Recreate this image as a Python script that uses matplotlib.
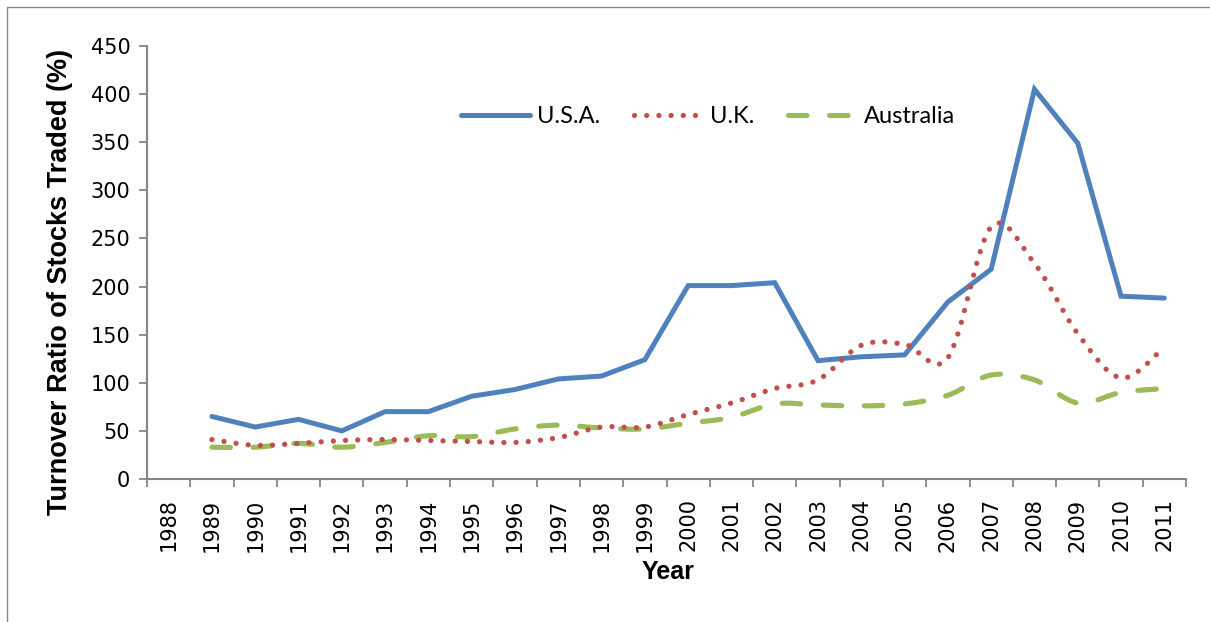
import numpy as np
import matplotlib
matplotlib.use("Agg")
import matplotlib.pyplot as plt
from matplotlib.path import Path
from matplotlib.patches import PathPatch, Rectangle
from matplotlib.lines import Line2D

years = [str(y) for y in range(1988, 2012)]
data_years = list(range(1989, 2012))

usa = [65, 54, 62, 50, 70, 70, 86, 93, 104, 107, 124,
       201, 201, 204, 123, 127, 129, 184, 218, 405, 349, 190, 188]
uk = [41, 35, 37, 40, 41, 40, 39, 38, 43, 54, 54,
      67, 79, 94, 103, 139, 140, 126, 262, 224, 151, 105, 137]
australia = [33, 33, 37, 33, 38, 45, 44, 52, 56, 53, 52,
             58, 64, 78, 77, 76, 78, 87, 108, 103, 79, 90, 94]

blue = "#4F81BD"
red = "#C0504D"
green = "#9BBB59"
grey = "#868686"


def smooth_path(x, y):
    # Catmull-Rom spline written as cubic bezier segments
    x = np.asarray(x, float)
    y = np.asarray(y, float)
    pts = np.column_stack([x, y])
    verts = [pts[0]]
    codes = [Path.MOVETO]
    n = len(pts)
    for i in range(n - 1):
        p0 = pts[i - 1] if i > 0 else pts[i]
        p1 = pts[i]
        p2 = pts[i + 1]
        p3 = pts[i + 2] if i + 2 < n else pts[i + 1]
        c1 = p1 + (p2 - p0) / 6.0
        c2 = p2 - (p3 - p1) / 6.0
        verts += [c1, c2, p2]
        codes += [Path.CURVE4] * 3
    return Path(verts, codes)


fig = plt.figure(figsize=(12.1, 6.22), dpi=100)
ax = fig.add_axes([147 / 1210, 1 - 479 / 622, 1039 / 1210, 433 / 622])

xpos = [years.index(str(y)) for y in data_years]

ax.plot(xpos, usa, color=blue, lw=3.6, solid_capstyle="round",
        solid_joinstyle="miter", zorder=3)

uk_patch = PathPatch(smooth_path(xpos, uk), fill=False, edgecolor=red,
                     lw=3.8, linestyle=(0, (0.01, 2.3)), capstyle="round",
                     zorder=4)
ax.add_patch(uk_patch)

au_patch = PathPatch(smooth_path(xpos, australia), fill=False,
                     edgecolor=green, lw=3.7, linestyle=(0, (3.6, 4.4)),
                     capstyle="round", zorder=2)
ax.add_patch(au_patch)

ax.set_xlim(-0.5, len(years) - 0.5)
ax.set_ylim(0, 450)
ax.set_yticks(range(0, 451, 50))
ax.set_xticks(np.arange(-0.5, len(years), 1.0))
ax.set_xticklabels([])
ax.set_xticks(range(len(years)), minor=True)
ax.set_xticklabels(years, minor=True, rotation=90, fontsize=15,
                   fontfamily="DejaVu Sans")
ax.tick_params(axis="x", which="major", length=6, width=1.3, color=grey)
ax.tick_params(axis="x", which="minor", length=0, pad=14)
ax.tick_params(axis="y", length=6, width=1.3, color=grey, pad=6,
               labelsize=15)

for s in ["top", "right"]:
    ax.spines[s].set_visible(False)
for s in ["left", "bottom"]:
    ax.spines[s].set_color(grey)
    ax.spines[s].set_linewidth(1.5)

handles = [
    Line2D([], [], color=blue, lw=3.6, solid_capstyle="round"),
    Line2D([], [], color=red, lw=3.8, linestyle=(0, (0.01, 2.3)),
           dash_capstyle="round"),
    Line2D([], [], color=green, lw=3.7, linestyle=(0, (3.6, 4.4)),
           dash_capstyle="round"),
]
ax.legend(handles, ["U.S.A.", "U.K.", "Australia"], ncol=3, frameon=False,
          loc="center", bbox_to_anchor=(0.54, 0.837),
          prop={"family": "Lato", "size": 17}, handlelength=2.9,
          handletextpad=0.3, columnspacing=1.45)

fig.text(60 / 1210, 1 - 282 / 622, "Turnover Ratio of Stocks Traded (%)",
         rotation=90, ha="center", va="center", fontsize=19.5,
         fontweight="bold", fontfamily="Liberation Sans")
fig.text(668 / 1210, 1 - 572 / 622, "Year", ha="center", va="center",
         fontsize=18, fontweight="bold", fontfamily="Liberation Sans")

# chart frame
fig.add_artist(Rectangle((7 / 1210, -0.1), 1.2, 1 - 7 / 622 + 0.1,
                         transform=fig.transFigure, fill=False,
                         edgecolor=grey, lw=1.0))

fig.savefig("out.png", dpi=100)
